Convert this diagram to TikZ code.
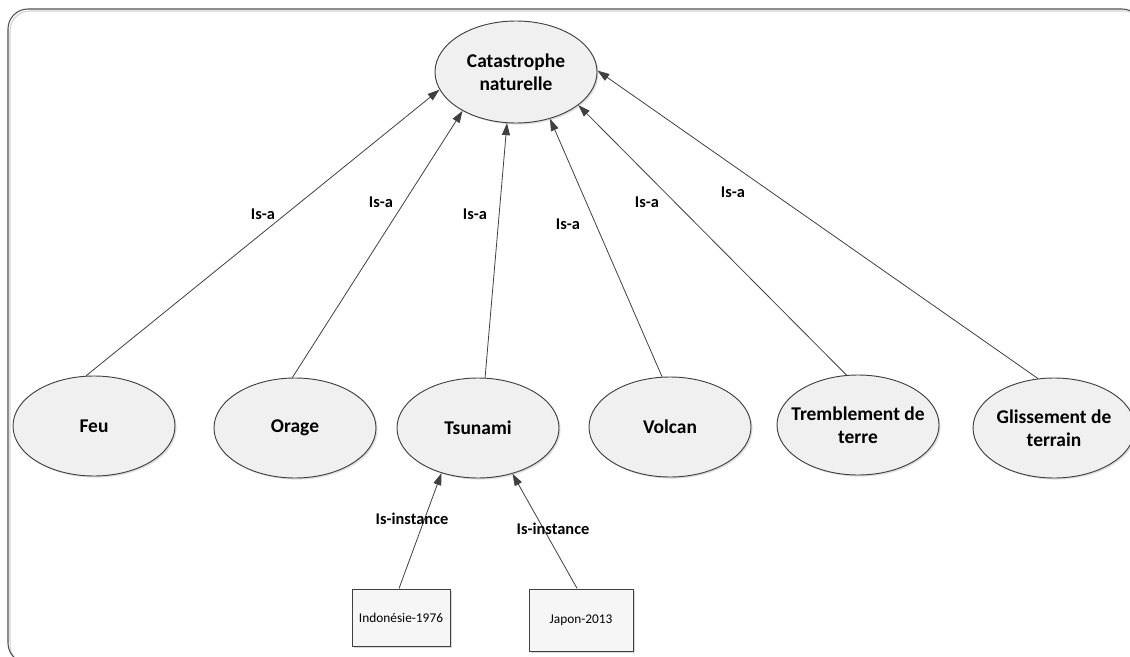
\documentclass[tikz,border=0pt]{standalone}
\usepackage{fontspec}
\setmainfont{Carlito}
\usetikzlibrary{shapes.geometric,arrows.meta,shadows}
\definecolor{edgegray}{RGB}{64,64,64}
\definecolor{blobfill}{RGB}{240,240,240}
\definecolor{boxfill}{RGB}{246,246,246}
\definecolor{framegray}{RGB}{80,80,80}

\begin{document}
\begin{tikzpicture}[x=0.75pt,y=-0.75pt,
  blob/.style={ellipse, draw=edgegray, line width=0.7pt, fill=blobfill,
    minimum width=121.5pt, minimum height=75pt, inner sep=0pt,
    drop shadow={shadow xshift=1.2pt, shadow yshift=-1.2pt, opacity=0.25}},
  blobtext/.style={font=\bfseries\fontsize{14.6}{17.5}\selectfont, align=center, inner sep=0pt},
  instbox/.style={rectangle, draw=edgegray, line width=0.7pt, fill=boxfill,
    inner sep=0pt, font=\fontsize{10}{12}\selectfont,
    drop shadow={shadow xshift=1.5pt, shadow yshift=-1.5pt, opacity=0.3}},
  isarrow/.style={draw=edgegray, line width=0.6pt, -{Triangle[length=9pt,width=6pt]}},
  isa/.style={font=\bfseries\fontsize{12.3}{14}\selectfont, inner sep=0pt}
]
\path[use as bounding box] (0,0) rectangle (1130,656);
\clip (0,0) rectangle (1130,656);

% frame around the diagram
\draw[gray!35, line width=0.8pt, rounded corners=15pt] (10,11) rectangle (1144,665);
\draw[framegray, line width=0.8pt, rounded corners=15pt] (8,9) rectangle (1142,663);

% concepts
\node[blob, minimum height=76.5pt, label={[blobtext]center:{Catastrophe\\naturelle}}] (cat) at (516,72) {};
\node[blob, label={[blobtext]center:Feu}] (feu) at (94,426) {};
\node[blob, label={[blobtext]center:Orage}] (orage) at (295,428) {};
\node[blob, label={[blobtext]center:Tsunami}] (tsu) at (478,428) {};
\node[blob, label={[blobtext]center:Volcan}] (volc) at (670,427) {};
\node[blob, label={[blobtext]center:{Tremblement de\\terre}}] (trem) at (858,425) {};
\node[blob, label={[blobtext]center:{Glissement de\\terrain}}] (gliss) at (1054,428) {};

% instances
\node[instbox, minimum width=73.5pt, minimum height=42.75pt] (indo) at (401,617.5) {Indonésie-1976};
\node[instbox, minimum width=78pt, minimum height=46.5pt] (jap) at (581,620) {Japon-2013};

% is-a links
\draw[isarrow] (feu.99) -- (cat.193);
\draw[isarrow] (orage.93) -- (cat.216);
\draw[isarrow] (tsu.82) -- (cat.260);
\draw[isarrow] (volc.99) -- (cat.306);
\draw[isarrow] (trem.103) -- (cat.332);
\draw[isarrow] (gliss.108) -- (cat.1);

% is-instance links
\draw[isarrow] (indo.94) -- (tsu.231);
\draw[isarrow] (jap.97) -- (tsu.307);

% link labels
\node[isa] (lfeu) at (263,214) {Is-a};
\node[isa] (lorage) at (381,202) {Is-a};
\node[isa] (ltsu) at (475,214) {Is-a};
\node[isa] (lvolc) at (568,224) {Is-a};
\node[isa] (ltrem) at (647,202) {Is-a};
\node[isa] (lgliss) at (733,192) {Is-a};
\node[isa] (lindo) at (412,519) {Is-instance};
\node[isa] (ljap) at (553,529) {Is-instance};
\end{tikzpicture}
\end{document}
